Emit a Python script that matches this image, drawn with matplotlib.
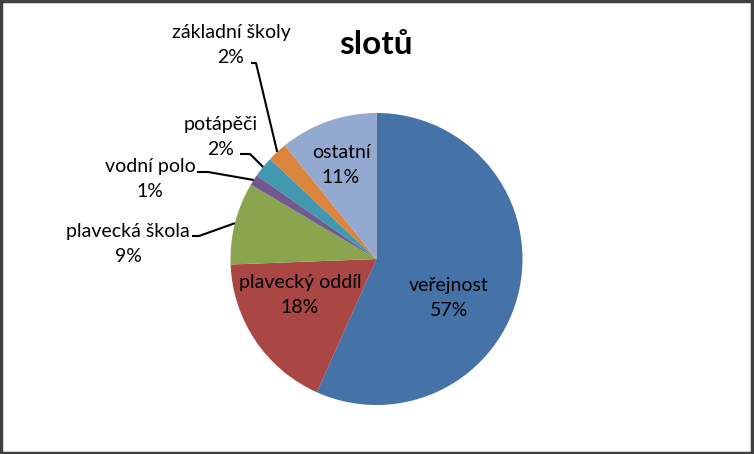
import numpy as np
import matplotlib.pyplot as plt
from matplotlib.patches import Rectangle

# data (clockwise from 12 o'clock)
categories = ["veřejnost", "plavecký oddíl", "plavecká škola", "vodní polo",
              "potápěči", "základní školy", "ostatní"]
shares = [56.7, 17.7, 9.1, 1.2, 2.3, 2.2, 10.8]
colors = ["#4572A7", "#AA4643", "#89A54E", "#71588F", "#4198AF", "#DB843D", "#93A9CF"]

W, H = 754, 454
cx, cy, r = 376.5, 259, 146

plt.rcParams['font.family'] = ['Lato', 'DejaVu Sans']

fig = plt.figure(figsize=(W / 100, H / 100), dpi=100)
ax = fig.add_axes([0, 0, 1, 1])

# y axis inverted so that coordinates run like pixels; counterclock in data = clockwise on screen
ax.pie(shares, colors=colors, startangle=-90, counterclock=True,
       center=(cx, cy), radius=r, wedgeprops=dict(linewidth=0))
ax.set_xlim(0, W)
ax.set_ylim(H, 0)
ax.set_aspect('equal')
ax.axis('off')

total = sum(shares)
pcts = ["%d%%" % round(v / total * 100) for v in shares]
cum = np.cumsum([0] + shares[:-1]) / total
mid = (cum + np.array(shares) / total / 2) * 2 * np.pi

def edge(i, k=1.0):
    return cx + k * r * np.sin(mid[i]), cy - k * r * np.cos(mid[i])

fs = 14
ls = 1.55
# labels inside the slices
inside = {0: (449, 298), 1: (300, 295), 6: (341, 165)}
for i, (x, y) in inside.items():
    ax.text(x, y, categories[i] + "\n" + pcts[i], ha='center', va='center',
            fontsize=fs, linespacing=ls, color='black')

# labels outside with leader lines: text position, elbow point
outside = {
    5: ((231, 45), (251, 63), (256, 63)),
    4: ((221, 137), (240, 154), (250, 154)),
    3: ((150, 179), (197, 172), (208, 172)),
    2: ((128, 244), (192, 236), (199, 236)),
}
for i, ((x, y), p0, p1) in outside.items():
    ax.text(x, y, categories[i] + "\n" + pcts[i], ha='center', va='center',
            fontsize=fs, linespacing=ls, color='black')
    ex, ey = edge(i, 1.0)
    ax.plot([p0[0], p1[0], ex], [p0[1], p1[1], ey], color='black', lw=1.5,
            solid_capstyle='butt')

ax.text(376, 44, "slotů", ha='center', va='center', fontsize=24,
        fontweight='bold', color='black')

# outer frame
fig.patches.append(Rectangle((0.001, 0.002), 0.997, 0.995, transform=fig.transFigure,
                             fill=False, edgecolor='#404040', lw=2.5))

fig.savefig("out.png", dpi=100)
